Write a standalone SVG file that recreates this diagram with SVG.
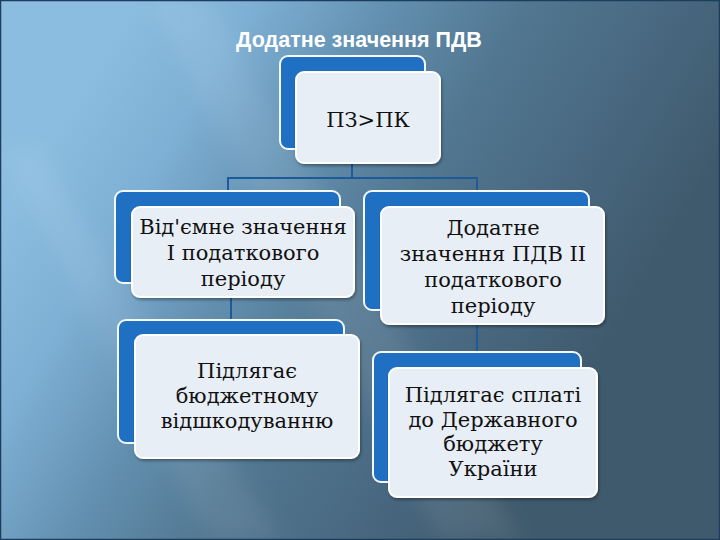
<svg xmlns="http://www.w3.org/2000/svg" width="720" height="540" viewBox="0 0 720 540">
  <defs>
    <linearGradient id="bg" gradientUnits="userSpaceOnUse" x1="60" y1="120" x2="560" y2="420">
      <stop offset="0" stop-color="#8bbde0"/>
      <stop offset="0.18" stop-color="#7eb0d5"/>
      <stop offset="0.38" stop-color="#6390b0"/>
      <stop offset="0.58" stop-color="#527791"/>
      <stop offset="0.8" stop-color="#486880"/>
      <stop offset="1" stop-color="#405a6d"/>
    </linearGradient>
    <filter id="sh" x="-10%" y="-10%" width="120%" height="120%">
      <feGaussianBlur in="SourceAlpha" stdDeviation="1.5"/>
      <feOffset dx="1" dy="1.5" result="b"/>
      <feComponentTransfer><feFuncA type="linear" slope="0.35"/></feComponentTransfer>
      <feMerge><feMergeNode/><feMergeNode in="SourceGraphic"/></feMerge>
    </filter>
    <filter id="blur"><feGaussianBlur stdDeviation="10"/></filter>
  </defs>
  <style>
    .back { fill: #1f6fc2; stroke: #f4f8fc; stroke-width: 2; }
    .front { fill: #e8eef6; stroke: #ffffff; stroke-width: 2; filter: url(#sh); }
    .lbl { font-family: "DejaVu Serif", serif; font-size: 21px; fill: #111111; text-anchor: middle; }
    .title { font-family: "Liberation Sans", Arial, sans-serif; font-size: 21.5px; font-weight: bold; fill: #ffffff; text-anchor: middle; }
    .conn { fill: none; stroke: #1d5a98; stroke-width: 2; }
  </style>

  <rect x="0" y="0" width="720" height="540" fill="url(#bg)"/>
  <g filter="url(#blur)">
    <polygon points="150,0 210,0 520,540 440,540" fill="#ffffff" opacity="0.08"/>
    <polygon points="0,150 40,150 280,540 210,540" fill="#ffffff" opacity="0.07"/>
  </g>
  <rect x="0.5" y="0.5" width="719" height="539" fill="none" stroke="#1d3d5c" stroke-width="1.5"/>

  <text class="title" x="359" y="47">Додатне значення ПДВ</text>

  <g id="connectors">
    <path class="conn" d="M352,163 V178 M228,178 H477 M228,177 V191 M477,177 V191"/>
    <path class="conn" d="M231,297 V320"/>
    <path class="conn" d="M477,324 V352"/>
  </g>

  <g id="node-top">
    <rect class="back" x="280" y="56" width="145" height="93" rx="8"/>
    <rect class="front" x="296" y="72" width="144" height="91" rx="8"/>
    <text class="lbl" x="368" y="127">ПЗ&gt;ПК</text>
  </g>

  <g id="node-left-mid">
    <rect class="back" x="115" y="191" width="225" height="92" rx="8"/>
    <rect class="front" x="132" y="207" width="222" height="90" rx="8"/>
    <text class="lbl" x="243" y="234">Від'ємне значення</text>
    <text class="lbl" x="243" y="260">І податкового</text>
    <text class="lbl" x="243" y="286">періоду</text>
  </g>

  <g id="node-right-mid">
    <rect class="back" x="364" y="191" width="225" height="119" rx="8"/>
    <rect class="front" x="381" y="207" width="223" height="117" rx="8"/>
    <text class="lbl" x="493" y="235">Додатне</text>
    <text class="lbl" x="493" y="261">значення ПДВ ІІ</text>
    <text class="lbl" x="493" y="287">податкового</text>
    <text class="lbl" x="493" y="313">періоду</text>
  </g>

  <g id="node-left-bottom">
    <rect class="back" x="118" y="320" width="226" height="123" rx="8"/>
    <rect class="front" x="135" y="335" width="224" height="123" rx="8"/>
    <text class="lbl" x="247" y="378">Підлягає</text>
    <text class="lbl" x="247" y="403">бюджетному</text>
    <text class="lbl" x="247" y="428">відшкодуванню</text>
  </g>

  <g id="node-right-bottom">
    <rect class="back" x="373" y="352" width="208" height="130" rx="8"/>
    <rect class="front" x="389" y="368" width="208" height="129" rx="8"/>
    <text class="lbl" x="493" y="402">Підлягає сплаті</text>
    <text class="lbl" x="493" y="427">до Державного</text>
    <text class="lbl" x="493" y="451">бюджету</text>
    <text class="lbl" x="493" y="476">України</text>
  </g>
</svg>
